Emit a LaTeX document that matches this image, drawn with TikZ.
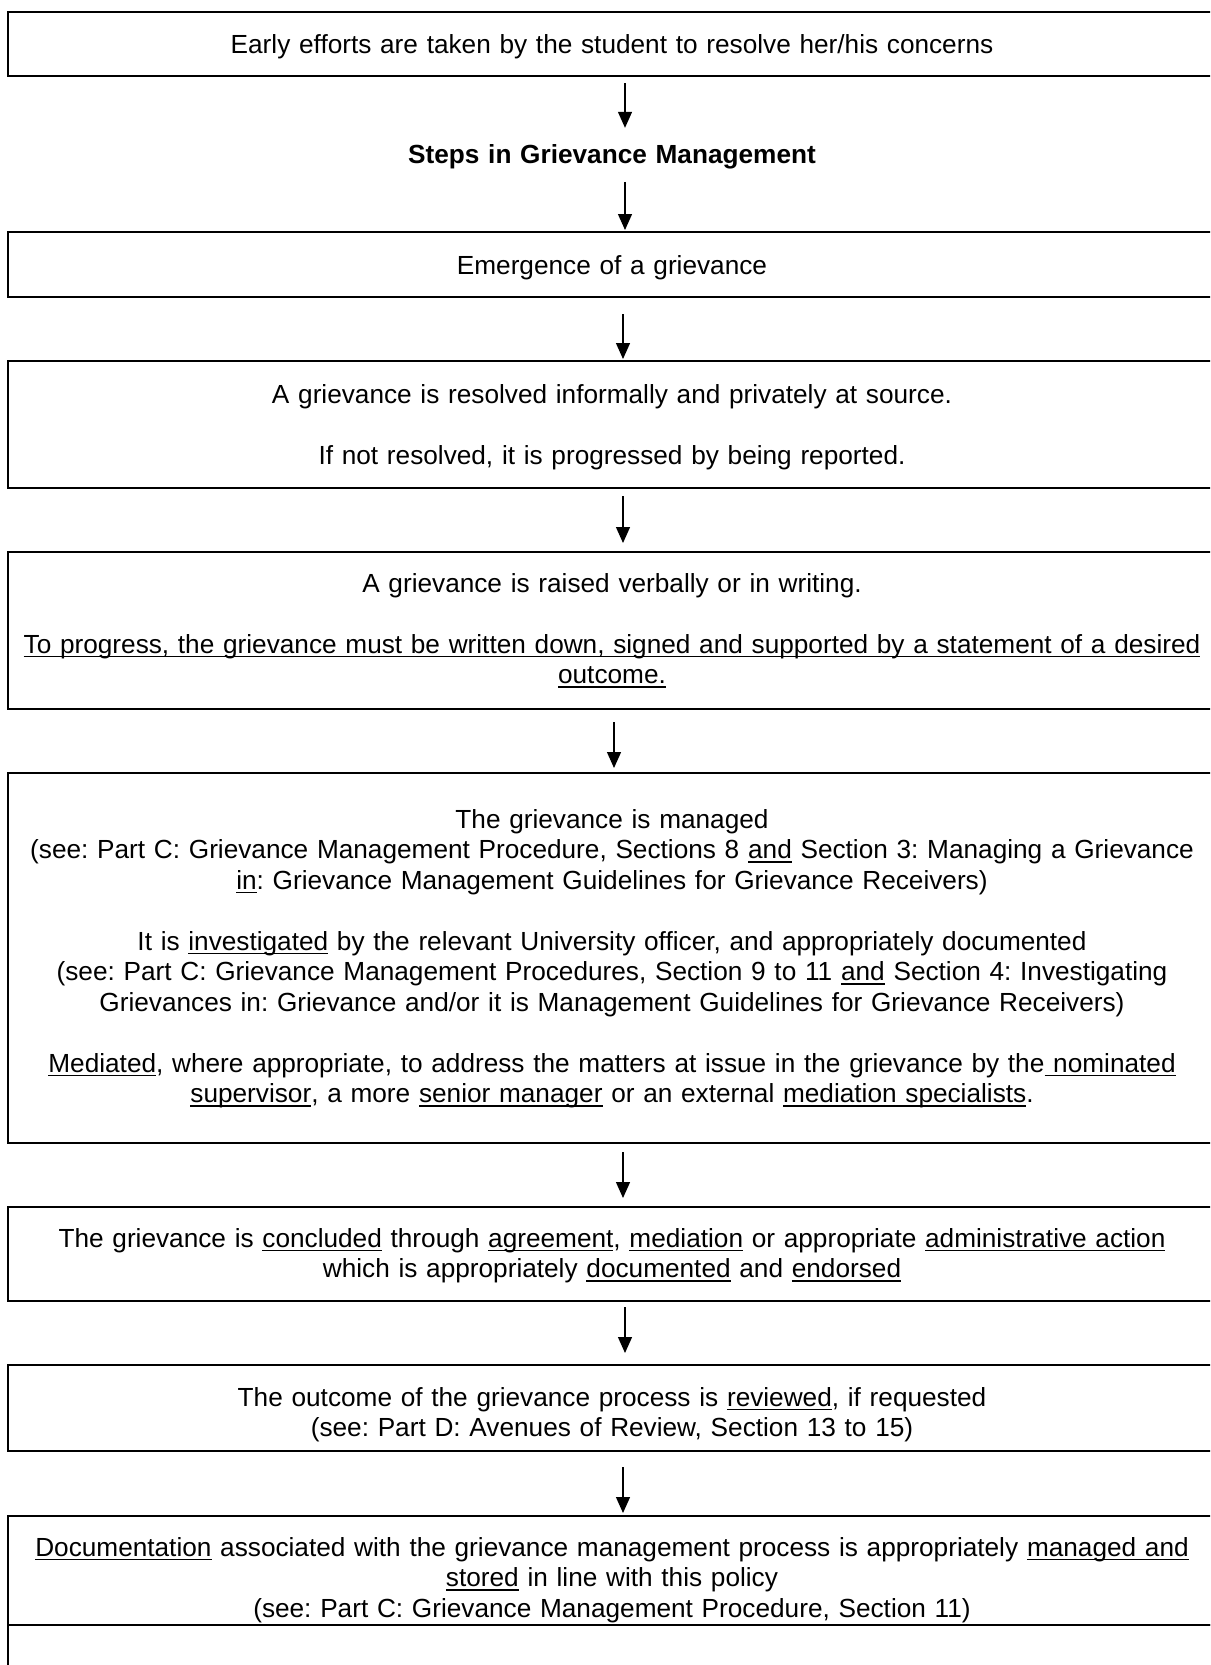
\documentclass[tikz,border=0pt]{standalone}
\usepackage{fontspec}
\setmainfont{Liberation Sans}
\usetikzlibrary{arrows.meta}
\newsavebox\ulbox
\newcommand\ulx[1]{\leavevmode\sbox\ulbox{#1}\rlap{\rule[-4.3pt]{\wd\ulbox}{1.7pt}}\usebox\ulbox}
\frenchspacing
\begin{document}
\begin{tikzpicture}[x=1pt,y=-1pt,
  box/.style={draw, line width=2pt, rectangle, minimum width=1208pt, inner sep=0pt, anchor=north},
  txt/.style={font=\fontsize{26.2}{30.5}\selectfont\frenchspacing, text width=1300pt, align=center, anchor=base, inner sep=0pt},
  arr/.style={line width=1.3pt, -{Triangle[length=16pt,width=14pt]}}]
\useasboundingbox (0,0) rectangle (1210,1665);
\clip (0,0) rectangle (1210,1665);
\fill[white] (0,0) rectangle (1210,1665);

% boxes
\node[box, minimum height=64pt]  (b1) at (612,11) {};
\node[box, minimum height=65pt]  (b2) at (612,231) {};
\node[box, minimum height=127pt] (b3) at (612,360) {};
\node[box, minimum height=157pt] (b4) at (612,551) {};
\node[box, minimum height=370pt] (b5) at (612,772) {};
\node[box, minimum height=94pt]  (b6) at (612,1206) {};
\node[box, minimum height=86pt]  (b7) at (612,1364) {};
\node[box, minimum height=109pt] (b8) at (612,1515) {};
\node[box, minimum height=100pt, line width=1.6pt] (b9) at (612,1624) {};

% texts
\node[txt] (t1) at (612,53) {Early efforts are taken by the student to resolve her/his concerns};
\node[txt, font=\fontsize{26.2}{30.5}\selectfont\bfseries] (steps) at (612,163) {Steps in Grievance Management};
\node[txt] (t2) at (612,274) {Emergence of a grievance};
\node[txt] (t3) at (612,403) {A grievance is resolved informally and privately at source.\\[30.5pt]
If not resolved, it is progressed by being reported.};
\node[txt] (t4) at (612,592) {A grievance is raised verbally or in writing.\\[30.5pt]
\ulx{To progress, the grievance must be written down, signed and supported by a statement of a desired}\\
\ulx{outcome.}};
\node[txt] (t5) at (612,828) {The grievance is managed\\
(see: Part C: Grievance Management Procedure, Sections 8 \ulx{and} Section 3: Managing a Grievance\\
\ulx{in}: Grievance Management Guidelines for Grievance Receivers)\\[30.5pt]
It is \ulx{investigated} by the relevant University officer, and appropriately documented\\
(see: Part C: Grievance Management Procedures, Section 9 to 11 \ulx{and} Section 4: Investigating\\
Grievances in: Grievance and/or it is Management Guidelines for Grievance Receivers)\\[30.5pt]
\ulx{Mediated}, where appropriate, to address the matters at issue in the grievance by the\ulx{ nominated}\\
\ulx{supervisor}, a more \ulx{senior manager} or an external \ulx{mediation specialists}.};
\node[txt] (t6) at (612,1247) {The grievance is \ulx{concluded} through \ulx{agreement}, \ulx{mediation} or appropriate \ulx{administrative action}\\
which is appropriately \ulx{documented} and \ulx{endorsed}};
\node[txt] (t7) at (612,1406) {The outcome of the grievance process is \ulx{reviewed}, if requested\\
(see: Part D: Avenues of Review, Section 13 to 15)};
\node[txt] (t8) at (612,1556) {\ulx{Documentation} associated with the grievance management process is appropriately \ulx{managed and}\\
\ulx{stored} in line with this policy\\
(see: Part C: Grievance Management Procedure, Section 11)};

% arrows
\draw[arr, shorten <=6pt, shorten >=16pt] ([xshift=13pt]b1.south) -- ([xshift=13pt]steps.north);
\draw[arr, shorten <=13pt, shorten >=1pt] ([xshift=13pt]steps.south) -- ([xshift=13pt]b2.north);
\draw[arr, shorten <=16pt, shorten >=1pt] ([xshift=11pt]b2.south) -- ([xshift=11pt]b3.north);
\draw[arr, shorten <=7pt, shorten >=8pt] ([xshift=11pt]b3.south) -- ([xshift=11pt]b4.north);
\draw[arr, shorten <=12pt, shorten >=4pt] ([xshift=2pt]b4.south) -- ([xshift=2pt]b5.north);
\draw[arr, shorten <=8pt, shorten >=8pt] ([xshift=11pt]b5.south) -- ([xshift=11pt]b6.north);
\draw[arr, shorten <=5pt, shorten >=11pt] ([xshift=13pt]b6.south) -- ([xshift=13pt]b7.north);
\draw[arr, shorten <=15pt, shorten >=2pt] ([xshift=11pt]b7.south) -- ([xshift=11pt]b8.north);
\end{tikzpicture}
\end{document}
